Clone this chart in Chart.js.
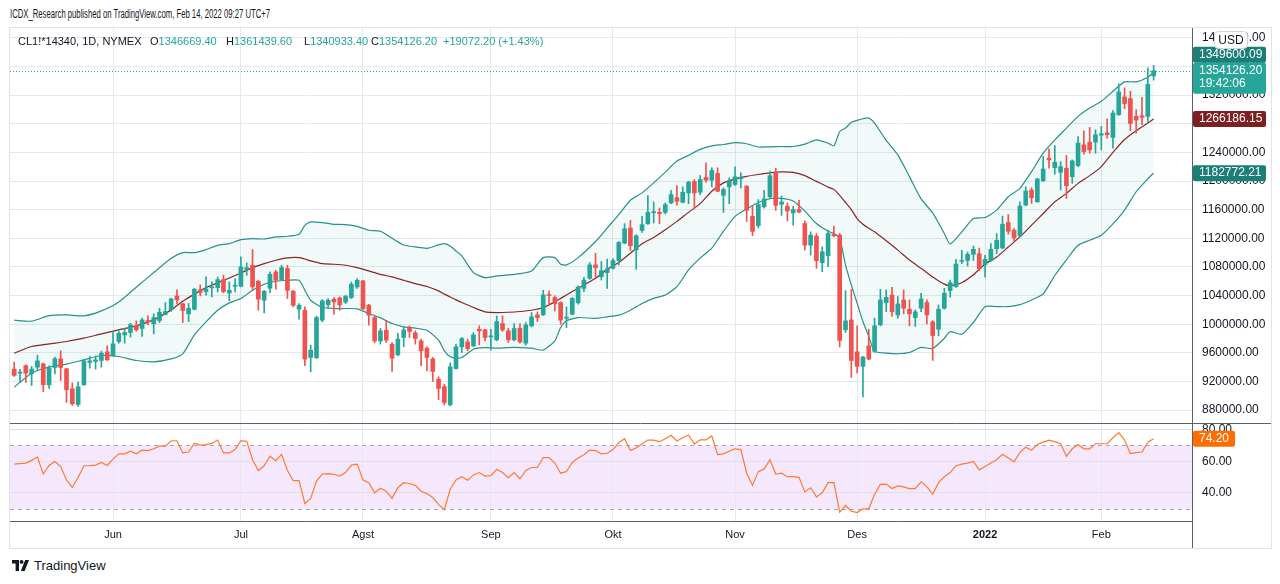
<!DOCTYPE html>
<html>
<head>
<meta charset="utf-8">
<title>CL1! 1D</title>
<script src="https://cdn.jsdelivr.net/npm/chart.js@4.4.1/dist/chart.umd.min.js"></script>
<style>
  html, body { margin: 0; padding: 0; background: #fff; }
  body { position: relative; width: 1280px; height: 584px; overflow: hidden;
         font-family: "Liberation Sans", Arial, sans-serif; color: #131722; }
  #title { position: absolute; left: 10px; top: 7px; font-size: 12px; white-space: nowrap; transform-origin: 0 0; }
  #frame { position: absolute; left: 9px; top: 27px; width: 1263px; height: 522px;
           border: 1px solid #e0e3eb; box-sizing: border-box; }
  canvas { position: absolute; }
  #legend { position: absolute; left: 0; top: 35px; font-size: 11px; white-space: nowrap; }
  #legend span { position: absolute; top: 0; }
  #legend i { font-style: normal; color: #26a69a; }
  #brand { position: absolute; left: 12px; top: 558px; font-size: 13px; display: flex; align-items: center; }
  #brand svg { margin-right: 5px; }
</style>
</head>
<body>
<div id="title">ICDX_Research published on TradingView.com, Feb 14, 2022 09:27 UTC+7</div>
<div id="frame"></div>
<canvas id="priceCv" width="1261" height="395" style="left:10px;top:28px"></canvas>
<canvas id="rsiCv" width="1261" height="125" style="left:10px;top:423px"></canvas>
<div id="legend">
  <span style="left:18px">CL1!*14340, 1D, NYMEX</span>
  <span style="left:150px">O<i>1346669.40</i></span>
  <span style="left:226px">H<i>1361439.60</i></span>
  <span style="left:304px">L<i>1340933.40</i></span>
  <span style="left:371px">C<i>1354126.20</i></span>
  <span style="left:443px"><i>+19072.20 (+1.43%)</i></span>
</div>
<div id="brand">
  <svg width="17" height="11" viewBox="0 0 17 11"><path d="M0 0h7v11H3.6V3.4H0z" fill="#131722"/><circle cx="9.6" cy="1.9" r="1.9" fill="#131722"/><path d="M13.2 0h3.8L12.6 11H8.8z" fill="#131722"/></svg>
  <span>TradingView</span>
</div>

<script>
// daily candles, prices in thousands
var OPEN = [
  937.2, 931.6, 941.9, 930.7, 940.0, 944.7, 915.4, 939.5, 951.6, 937.7,
  909.8, 887.9, 915.4, 946.5, 947.9, 949.3, 961.4, 955.8, 975.8, 985.1,
  988.4, 997.7, 994.0, 1005.1, 1000.5, 1005.1, 1013.5, 1020.0, 1039.5, 1028.4,
  1014.4, 1020.9, 1047.9, 1045.6, 1050.7, 1051.2, 1062.3, 1043.7, 1053.0, 1053.0,
  1076.3, 1082.3, 1060.0, 1033.5, 1050.2, 1073.0, 1062.3, 1077.7, 1046.0, 1020.9,
  1019.5, 953.5, 953.0, 1005.6, 1027.4, 1034.9, 1036.7, 1030.7, 1037.2, 1052.1,
  1060.5, 1026.5, 1009.3, 976.7, 991.6, 972.1, 957.2, 981.4, 994.4, 987.9,
  976.7, 966.5, 951.6, 923.3, 913.0, 887.4, 938.1, 968.4, 975.3, 969.8,
  993.0, 992.1, 982.3, 978.1, 1000.9, 990.7, 978.1, 994.4, 973.5, 997.7,
  1013.0, 1013.0, 1041.4, 1037.2, 1030.2, 1008.4, 1014.0, 1030.0, 1050.0, 1064.0,
  1082.8, 1066.4, 1072.0, 1078.1, 1088.9, 1113.2, 1134.3, 1103.9, 1131.0, 1140.3,
  1155.8, 1156.2, 1156.2, 1169.3, 1176.8, 1170.3, 1183.4, 1199.3, 1184.3, 1204.9,
  1201.2, 1210.5, 1180.1, 1191.8, 1195.1, 1203.0, 1192.7, 1150.6, 1137.5, 1164.0,
  1178.0, 1211.5, 1167.5, 1164.7, 1155.4, 1160.0, 1140.6, 1110.4, 1123.0, 1085.8,
  1095.6, 1125.7, 1124.4, 992.1, 1006.0, 961.5, 941.1, 969.8, 962.0, 999.1,
  1030.2, 1040.8, 1013.0, 1033.9, 1020.9, 1009.3, 1022.3, 1030.2, 1003.2, 993.0,
  1022.3, 1046.9, 1052.4, 1087.7, 1089.1, 1097.6, 1098.5, 1083.0, 1089.1, 1105.5,
  1106.4, 1142.0, 1131.2, 1123.3, 1166.3, 1187.4, 1171.0, 1200.5, 1231.8, 1218.7,
  1212.2, 1217.8, 1206.1, 1221.5, 1250.5, 1254.3, 1254.3, 1264.1, 1267.4, 1260.8,
  1292.6, 1317.4, 1315.1, 1290.3, 1291.2, 1290.3, 1346.7
];
var HIGH = [
  947.0, 937.0, 943.3, 941.0, 956.7, 945.6, 941.9, 954.0, 962.8, 938.6,
  918.1, 919.0, 950.2, 954.9, 955.8, 962.3, 969.8, 989.8, 989.8, 994.4,
  1001.4, 1004.7, 1008.4, 1011.6, 1014.4, 1022.3, 1030.2, 1036.3, 1047.9, 1029.3,
  1029.3, 1050.2, 1054.9, 1066.0, 1059.0, 1066.0, 1068.4, 1059.0, 1063.7, 1094.0,
  1085.6, 1104.2, 1061.4, 1047.4, 1073.0, 1075.3, 1082.3, 1082.3, 1047.4, 1028.8,
  1024.2, 970.7, 1011.2, 1034.4, 1035.8, 1037.2, 1038.1, 1040.5, 1059.0, 1063.7,
  1061.4, 1027.9, 1011.2, 994.0, 1004.7, 974.4, 987.4, 996.7, 997.7, 990.7,
  979.1, 968.4, 953.5, 926.5, 916.3, 946.0, 972.1, 981.4, 979.1, 988.4,
  997.7, 993.0, 993.0, 1011.6, 1011.6, 994.4, 1000.9, 1000.9, 1002.3, 1016.3,
  1017.2, 1047.4, 1046.5, 1039.5, 1031.2, 1024.2, 1037.2, 1053.5, 1065.5, 1086.0,
  1099.2, 1087.5, 1090.8, 1091.7, 1115.5, 1140.3, 1145.0, 1124.9, 1150.6, 1179.6,
  1170.7, 1162.3, 1169.3, 1187.1, 1193.7, 1191.8, 1199.7, 1202.1, 1207.7, 1225.5,
  1218.5, 1218.5, 1190.4, 1204.4, 1219.9, 1211.4, 1193.7, 1164.7, 1174.0, 1187.0,
  1214.0, 1218.0, 1179.0, 1169.4, 1164.7, 1173.0, 1144.3, 1129.0, 1126.7, 1108.1,
  1131.3, 1136.9, 1126.7, 1046.9, 1048.7, 997.7, 955.0, 993.0, 1008.4, 1048.7,
  1047.8, 1051.5, 1038.5, 1047.8, 1033.9, 1020.0, 1043.2, 1033.9, 1005.1, 1026.9,
  1050.1, 1061.7, 1090.5, 1103.2, 1100.8, 1109.2, 1106.4, 1096.1, 1112.5, 1126.6,
  1150.9, 1153.2, 1133.6, 1171.0, 1192.0, 1190.6, 1203.7, 1234.1, 1244.9, 1249.6,
  1227.1, 1235.6, 1229.5, 1262.2, 1270.2, 1274.8, 1271.6, 1276.3, 1287.0, 1298.2,
  1335.7, 1330.0, 1325.4, 1299.6, 1317.0, 1358.1, 1361.4
];
var LOW = [
  927.0, 918.6, 918.6, 914.4, 936.3, 905.6, 910.2, 930.7, 921.4, 890.7,
  886.5, 885.1, 914.4, 938.6, 937.2, 940.0, 949.3, 954.9, 973.5, 973.5,
  981.9, 990.2, 982.8, 999.1, 986.5, 1002.3, 1013.0, 1017.7, 1028.4, 1002.3,
  1003.7, 1020.0, 1039.5, 1040.5, 1038.1, 1045.1, 1043.7, 1032.6, 1045.1, 1052.1,
  1068.4, 1047.4, 1019.5, 1015.8, 1043.7, 1048.8, 1061.4, 1035.8, 1024.2, 1007.0,
  941.9, 933.5, 952.1, 1003.3, 1021.9, 1014.0, 1019.5, 1028.8, 1035.8, 1049.8,
  1020.5, 998.6, 974.0, 972.1, 974.4, 934.0, 955.8, 968.4, 981.4, 972.1,
  941.9, 934.9, 920.0, 894.4, 887.0, 886.0, 937.2, 960.5, 962.8, 968.4,
  971.2, 976.7, 963.7, 976.7, 989.8, 974.4, 976.7, 973.5, 970.7, 996.3,
  1003.7, 1012.1, 1027.0, 1018.6, 1000.0, 995.3, 1013.0, 1027.9, 1045.4, 1062.7,
  1065.5, 1061.7, 1050.0, 1076.7, 1082.8, 1112.3, 1102.9, 1076.7, 1128.2, 1139.4,
  1141.3, 1140.3, 1153.9, 1168.4, 1166.1, 1169.3, 1168.4, 1160.9, 1181.0, 1198.4,
  1191.8, 1184.8, 1156.2, 1168.4, 1193.7, 1190.4, 1143.6, 1123.5, 1134.3, 1162.0,
  1175.5, 1159.0, 1152.0, 1144.3, 1138.3, 1155.4, 1103.5, 1096.5, 1078.0, 1073.3,
  1080.3, 1122.0, 968.0, 988.4, 925.8, 931.8, 898.4, 950.4, 960.6, 997.7,
  1017.6, 1010.7, 1008.4, 1014.4, 997.7, 996.8, 1017.6, 1000.5, 949.4, 983.8,
  1020.9, 1037.6, 1051.5, 1084.5, 1081.2, 1089.1, 1075.1, 1065.7, 1087.7, 1098.5,
  1105.5, 1125.6, 1115.8, 1121.9, 1165.4, 1168.7, 1170.1, 1199.1, 1217.8, 1209.4,
  1187.4, 1175.7, 1196.7, 1220.1, 1237.4, 1238.8, 1238.8, 1243.5, 1259.9, 1245.8,
  1291.7, 1301.0, 1270.2, 1266.9, 1278.6, 1283.3, 1340.9
];
var CLOSE = [
  928.4, 933.0, 931.6, 937.2, 948.8, 915.4, 938.6, 951.6, 939.5, 908.4,
  888.8, 912.6, 948.8, 948.8, 950.2, 959.5, 950.2, 972.6, 987.4, 988.4,
  999.1, 992.1, 1006.0, 1003.7, 1009.3, 1016.7, 1017.7, 1035.3, 1034.0, 1019.1,
  1022.3, 1048.8, 1044.2, 1049.3, 1051.6, 1062.3, 1045.6, 1047.4, 1054.0, 1080.0,
  1079.0, 1052.1, 1034.9, 1046.0, 1069.8, 1061.4, 1079.1, 1047.4, 1026.5, 1026.5,
  951.2, 963.7, 1009.3, 1032.6, 1033.5, 1031.2, 1027.0, 1039.1, 1055.8, 1061.4,
  1021.4, 1012.6, 976.7, 990.7, 977.7, 952.6, 979.1, 992.1, 989.8, 980.0,
  962.8, 953.5, 934.0, 910.2, 890.7, 940.5, 968.4, 980.0, 966.0, 985.1,
  990.7, 981.4, 983.3, 1003.7, 992.1, 978.1, 994.0, 975.3, 999.1, 1010.2,
  1009.3, 1040.9, 1040.0, 1028.8, 1005.6, 1009.3, 1036.0, 1051.8, 1061.7, 1082.8,
  1079.0, 1074.8, 1077.2, 1088.9, 1114.1, 1133.3, 1109.5, 1123.5, 1139.0, 1156.2,
  1157.2, 1154.4, 1167.0, 1181.0, 1171.7, 1184.3, 1198.4, 1183.4, 1202.1, 1201.2,
  1214.7, 1185.7, 1188.1, 1199.7, 1205.8, 1205.4, 1159.0, 1129.6, 1167.0, 1175.0,
  1207.5, 1166.0, 1170.8, 1158.2, 1160.0, 1156.8, 1110.4, 1124.4, 1088.6, 1101.2,
  1126.7, 1123.4, 977.3, 1004.6, 949.4, 941.1, 954.1, 951.3, 997.7, 1033.9,
  1037.6, 1017.6, 1028.3, 1022.3, 1014.4, 1017.2, 1035.3, 1013.0, 984.2, 1020.9,
  1043.2, 1058.0, 1084.0, 1089.1, 1097.6, 1104.6, 1077.4, 1090.5, 1104.6, 1117.2,
  1139.7, 1129.8, 1120.5, 1164.9, 1186.0, 1176.6, 1202.8, 1216.8, 1229.5, 1226.2,
  1220.1, 1193.5, 1228.1, 1252.9, 1241.2, 1243.5, 1264.6, 1266.0, 1264.6, 1295.0,
  1324.4, 1308.1, 1280.5, 1285.1, 1288.9, 1335.1, 1354.1
];

// Bollinger band readings, at the bar indices in BB_IDX
var BB_IDX = [
  0, 3, 6, 9, 12, 15, 18, 21, 24, 27, 29, 31, 33, 35, 37, 39, 41, 43, 45, 47,
  49, 50, 51, 53, 55, 57, 59, 61, 63, 65, 67, 69, 71, 73, 74, 75, 76, 77, 79, 81,
  83, 85, 87, 89, 91, 93, 94, 95, 97, 100, 102, 104, 106, 108, 110, 112, 114, 116, 118, 120,
  122, 124, 126, 128, 130, 132, 134, 136, 138, 140, 141, 142, 143, 144, 145, 146, 147, 148, 150, 152,
  154, 156, 158, 160, 161, 163, 165, 167, 169, 171, 173, 175, 177, 179, 181, 183, 185, 187, 189, 191,
  193, 195, 196
];
var BB_UPPER = [
  1005.6, 1004.2, 1012.0, 1013.0, 1011.6, 1018.6, 1031.0, 1051.6, 1072.1, 1092.1,
  1100.0, 1100.0, 1104.2, 1110.2, 1112.6, 1118.1, 1119.5, 1119.0, 1121.9, 1122.8,
  1125.6, 1138.1, 1142.8, 1141.9, 1139.5, 1139.1, 1136.7, 1131.2, 1129.8, 1120.0,
  1110.7, 1107.9, 1106.0, 1110.7, 1112.6, 1109.3, 1102.3, 1095.3, 1072.1, 1065.1,
  1067.4, 1068.8, 1070.7, 1074.4, 1093.0, 1093.0, 1083.7, 1082.8, 1093.0, 1115.5,
  1134.3, 1153.0, 1173.1, 1183.4, 1197.4, 1212.4, 1227.8, 1235.8, 1244.2, 1249.0,
  1251.0, 1253.5, 1252.0, 1247.5, 1247.7, 1248.2, 1248.2, 1251.5, 1257.5, 1252.9,
  1249.1, 1269.2, 1273.9, 1281.9, 1284.7, 1287.0, 1288.0, 1280.9, 1256.6, 1236.5,
  1206.1, 1175.0, 1155.4, 1126.7, 1112.0, 1128.9, 1147.6, 1149.0, 1159.3, 1178.0,
  1189.7, 1213.1, 1238.8, 1257.5, 1273.9, 1290.3, 1302.0, 1311.3, 1325.4, 1338.5,
  1338.5, 1345.0, 1352.0
];
var BB_BASIS = [
  959.5, 968.8, 972.5, 975.8, 980.5, 986.5, 992.1, 997.7, 1006.0, 1020.0,
  1032.0, 1042.0, 1051.2, 1057.7, 1064.6, 1071.6, 1079.0, 1084.6, 1089.3, 1092.6,
  1093.0, 1091.0, 1088.4, 1084.6, 1083.7, 1082.3, 1079.0, 1074.4, 1069.5, 1066.0,
  1061.4, 1056.7, 1052.6, 1046.5, 1042.0, 1038.1, 1034.0, 1030.2, 1023.3, 1017.2,
  1016.3, 1016.7, 1017.7, 1019.5, 1023.3, 1031.2, 1036.0, 1040.9, 1050.2, 1064.1,
  1076.7, 1086.1, 1099.2, 1112.3, 1121.2, 1131.9, 1143.6, 1156.2, 1168.4, 1185.7,
  1197.4, 1203.0, 1206.5, 1209.1, 1211.4, 1212.7, 1212.0, 1207.5, 1199.5, 1191.5,
  1188.3, 1180.0, 1170.0, 1160.0, 1147.6, 1139.7, 1134.0, 1129.0, 1116.5, 1103.5,
  1089.6, 1078.0, 1066.0, 1056.0, 1054.0, 1058.0, 1069.0, 1084.0, 1093.8, 1107.8,
  1121.9, 1138.3, 1154.6, 1171.0, 1182.7, 1196.7, 1207.5, 1220.1, 1240.0, 1258.0,
  1270.2, 1280.9, 1286.5
];
var BB_LOWER = [
  912.1, 931.6, 940.0, 944.2, 950.2, 956.3, 954.9, 949.3, 947.4, 951.5,
  958.6, 985.0, 1003.3, 1019.5, 1029.8, 1035.8, 1047.4, 1055.8, 1060.0, 1061.4,
  1061.4, 1047.4, 1033.5, 1023.3, 1021.9, 1021.9, 1021.4, 1014.9, 1008.9, 1000.9,
  996.3, 994.4, 991.6, 977.7, 962.8, 954.4, 952.6, 953.5, 965.1, 967.4,
  966.5, 967.4, 967.4, 966.5, 963.7, 976.7, 995.3, 1004.7, 1009.3, 1008.0,
  1010.3, 1012.6, 1019.6, 1029.0, 1036.0, 1040.7, 1052.4, 1075.8, 1092.2, 1106.2,
  1129.6, 1150.6, 1161.0, 1170.0, 1175.5, 1175.7, 1172.0, 1158.0, 1140.6, 1129.9,
  1126.7, 1119.7, 1082.6, 1054.8, 1029.2, 1003.7, 982.8, 962.0, 959.6, 958.7,
  960.6, 967.5, 966.1, 980.2, 989.6, 985.9, 1002.4, 1024.5, 1024.5, 1024.5,
  1027.3, 1033.9, 1042.4, 1068.0, 1090.0, 1110.2, 1117.2, 1124.2, 1140.0, 1159.3,
  1185.0, 1203.0, 1211.0
];

// RSI(14), one reading per bar
var RSI = [
  58.2, 58.6, 58.9, 60.6, 62.7, 52.0, 57.4, 59.9, 56.7, 48.2,
  43.5, 49.9, 57.2, 57.3, 57.6, 59.3, 57.4, 61.4, 64.7, 64.7,
  66.4, 64.7, 67.0, 66.8, 67.9, 69.6, 69.6, 73.0, 73.0, 65.3,
  65.9, 71.5, 70.2, 70.6, 71.3, 73.4, 65.3, 65.3, 67.4, 73.0,
  72.6, 61.0, 54.2, 57.2, 63.2, 60.4, 64.4, 54.2, 47.8, 47.8,
  33.2, 36.6, 47.5, 52.0, 52.2, 51.8, 50.7, 52.9, 57.6, 58.2,
  48.2, 46.5, 40.1, 43.0, 41.1, 36.6, 43.3, 46.5, 46.0, 44.8,
  41.1, 39.6, 37.1, 32.8, 29.4, 42.4, 48.2, 50.3, 48.0, 51.4,
  52.9, 50.7, 51.0, 55.0, 52.9, 49.7, 52.9, 49.0, 54.2, 56.1,
  56.1, 62.3, 62.3, 58.9, 52.5, 53.5, 59.3, 62.1, 64.2, 67.0,
  66.8, 64.7, 65.1, 67.4, 71.7, 74.3, 66.8, 68.5, 71.1, 73.4,
  73.4, 72.4, 74.3, 76.4, 72.8, 74.9, 76.6, 70.9, 73.6, 73.6,
  76.0, 64.2, 64.7, 66.4, 67.9, 67.4, 52.5, 44.8, 53.5, 55.2,
  61.0, 52.0, 52.5, 50.3, 50.3, 49.9, 40.7, 43.3, 37.5, 40.1,
  46.5, 46.5, 27.9, 32.1, 28.5, 27.6, 30.0, 30.0, 39.2, 45.4,
  45.6, 42.8, 44.5, 43.9, 42.8, 42.8, 47.1, 43.9, 39.2, 46.5,
  50.3, 52.9, 57.2, 58.2, 58.9, 59.9, 54.6, 56.7, 58.9, 61.0,
  64.4, 62.1, 59.7, 65.7, 68.9, 67.0, 70.6, 72.1, 73.4, 72.4,
  71.1, 63.2, 67.9, 70.6, 67.9, 67.9, 71.1, 71.1, 71.1, 74.9,
  78.1, 73.4, 64.9, 65.5, 65.9, 72.1, 74.2
];
var RSI_HIGH = 70, RSI_LOW = 30;

// axis ticks
var MONTHS = ["Jun", "Jul", "Agst", "Sep", "Okt", "Nov", "Des", "2022", "Feb"];
var MONTH_IDX = [17, 39, 60, 82, 103, 124, 145, 167, 187];
var PRICE_TICKS = [880, 920, 960, 1000, 1040, 1080, 1120, 1160, 1200, 1240, 1280, 1320, 1360, 1400];
var RSI_TICKS = [40, 60, 80];

// right-scale tag texts as printed on the chart
var TAG_UPPER = "1349600.09", TAG_BASIS = "1266186.15", TAG_LOWER = "1182772.21";
var TAG_LAST = "1354126.20", TAG_TIMER = "19:42:06";

// view / style
var X_MIN = -0.72, X_MAX = 202.6;
var PRICE_MIN = 862.0, PRICE_MAX = 1413.7;
var RSI_MIN = 22.3, RSI_MAX = 84.2;
var AXIS_W = 79;
var UP = "#26a69a", DOWN = "#ef5350";
var BAND = "#27918a", BASIS = "#8b2424", BAND_FILL = "rgba(38,166,154,0.06)";
var TAG_TEAL = "#1b7f78", TAG_RED = "#801f1f", ORANGE = "#ff7a30";
var GRID = "#e3e9ef", RSI_GRID = "#e2ddeb", AXIS_LINE = "#5d606b", TEXT = "#131722";
var FONT = '"Liberation Sans", Arial, sans-serif';

Chart.defaults.font.family = FONT;
Chart.defaults.color = TEXT;

(function () {
  var t = document.getElementById("title");
  t.style.transform = "scaleX(" + (260 / t.offsetWidth) + ")";
})();

function pts(xs, ys) {
  return xs.map(function (x, k) { return { x: x, y: ys[k] }; });
}

// no label overhang padding: the plot areas have to line up with the page frame
function noPad(s) {
  s.paddingTop = 0; s.paddingBottom = 0; s.paddingLeft = 0; s.paddingRight = 0;
}

function xScale(showLabels) {
  return {
    type: "linear", min: X_MIN, max: X_MAX, offset: false,
    afterBuildTicks: function (s) { s.ticks = MONTH_IDX.map(function (v) { return { value: v }; }); },
    afterFit: function (s) { s.height = showLabels ? 27 : 0; noPad(s); },
    grid: { color: GRID, drawTicks: false, offset: false },
    border: { display: showLabels, color: AXIS_LINE },
    ticks: {
      display: showLabels, padding: 7, maxRotation: 0, autoSkip: false, color: TEXT,
      callback: function (v) { var k = MONTH_IDX.indexOf(v); return k < 0 ? "" : MONTHS[k]; },
      font: function (c) {
        var bold = c.tick && c.tick.value === MONTH_IDX[7];
        return { size: 11, family: FONT, weight: bold ? "bold" : "normal" };
      }
    }
  };
}

function drawTag(ctx, x, yc, w, lines, bg) {
  var h = lines.length > 1 ? 31 : 16;
  ctx.save();
  ctx.fillStyle = bg;
  ctx.beginPath();
  ctx.roundRect(x, yc - 8, w, h, 2);
  ctx.fill();
  ctx.fillStyle = "#fff";
  ctx.font = "12px " + FONT;
  ctx.textBaseline = "middle";
  lines.forEach(function (s, k) { ctx.fillText(s, x + 6, yc + k * 13.5); });
  ctx.restore();
}

var lastPriceLine = {
  id: "lastPriceLine",
  afterDatasetsDraw: function (chart) {
    var a = chart.chartArea, ctx = chart.ctx;
    var y = Math.round(chart.scales.y.getPixelForValue(CLOSE[CLOSE.length - 1])) + 0.5;
    ctx.save();
    ctx.strokeStyle = UP;
    ctx.lineWidth = 1;
    ctx.setLineDash([1, 2]);
    ctx.beginPath();
    ctx.moveTo(a.left, y);
    ctx.lineTo(a.right, y);
    ctx.stroke();
    ctx.restore();
  }
};

var priceTags = {
  id: "priceTags",
  afterDraw: function (chart) {
    var a = chart.chartArea, ys = chart.scales.y, ctx = chart.ctx;
    var n = BB_IDX.length - 1, x = a.right + 1, w = 73;
    var yc = ys.getPixelForValue(CLOSE[CLOSE.length - 1]);
    var yu = ys.getPixelForValue(BB_UPPER[n]);
    if (Math.abs(yu - yc) < 24) yu = yc - 16;
    drawTag(ctx, x, ys.getPixelForValue(BB_BASIS[n]), w, [TAG_BASIS], TAG_RED);
    drawTag(ctx, x, ys.getPixelForValue(BB_LOWER[n]), w, [TAG_LOWER], TAG_TEAL);
    drawTag(ctx, x, yu, w, [TAG_UPPER], TAG_TEAL);
    drawTag(ctx, x, yc, w, [TAG_LAST, TAG_TIMER], UP);

    // currency badge
    ctx.save();
    ctx.fillStyle = "#fff";
    ctx.strokeStyle = "#d1d4dc";
    ctx.lineWidth = 1;
    ctx.beginPath();
    ctx.roundRect(a.right + 22.5, 3.5, 33, 17, 4);
    ctx.fill();
    ctx.stroke();
    ctx.fillStyle = TEXT;
    ctx.font = "12px " + FONT;
    ctx.textAlign = "center";
    ctx.textBaseline = "middle";
    ctx.fillText("USD", a.right + 39, 12.5);
    ctx.restore();
  }
};

var rsiDecor = {
  id: "rsiDecor",
  beforeDraw: function (chart) {
    var a = chart.chartArea, ys = chart.scales.y, ctx = chart.ctx;
    var y1 = ys.getPixelForValue(RSI_HIGH), y2 = ys.getPixelForValue(RSI_LOW);
    ctx.save();
    ctx.fillStyle = "#f5e8fc";
    ctx.fillRect(a.left, y1, a.right - a.left, y2 - y1);
    ctx.restore();
  },
  beforeDatasetsDraw: function (chart) {
    var a = chart.chartArea, ys = chart.scales.y, ctx = chart.ctx;
    ctx.save();
    ctx.strokeStyle = "#aaa3b6";
    ctx.lineWidth = 1;
    ctx.setLineDash([4, 4]);
    [RSI_HIGH, RSI_LOW].forEach(function (v) {
      var y = Math.round(ys.getPixelForValue(v)) + 0.5;
      ctx.beginPath();
      ctx.moveTo(a.left, y);
      ctx.lineTo(a.right, y);
      ctx.stroke();
    });
    ctx.restore();
  },
  afterDraw: function (chart) {
    var a = chart.chartArea, ys = chart.scales.y, ctx = chart.ctx;
    ctx.save();
    ctx.strokeStyle = AXIS_LINE;
    ctx.lineWidth = 1;
    ctx.beginPath();
    ctx.moveTo(0, a.top + 0.5);
    ctx.lineTo(chart.width, a.top + 0.5);
    ctx.moveTo(a.right + 0.5, a.bottom);
    ctx.lineTo(a.right + 0.5, chart.height);
    ctx.stroke();
    ctx.restore();
    var last = RSI[RSI.length - 1];
    drawTag(ctx, a.right + 1, ys.getPixelForValue(last), 42, [last.toFixed(2)], "#ff6d00");
  }
};

var colors = CLOSE.map(function (c, i) { return c >= OPEN[i] ? UP : DOWN; });

new Chart(document.getElementById("priceCv"), {
  type: "bar",
  data: {
    datasets: [
      { type: "line", data: pts(BB_IDX, BB_UPPER), borderColor: BAND, borderWidth: 1.2,
        pointRadius: 0, tension: 0.2, order: 3,
        fill: { target: 2, above: BAND_FILL, below: BAND_FILL } },
      { type: "line", data: pts(BB_IDX, BB_BASIS), borderColor: BASIS, borderWidth: 1.2,
        pointRadius: 0, tension: 0.2, fill: false, order: 2 },
      { type: "line", data: pts(BB_IDX, BB_LOWER), borderColor: BAND, borderWidth: 1.2,
        pointRadius: 0, tension: 0.2, fill: false, order: 2 },
      { type: "bar", data: CLOSE.map(function (c, i) { return { x: i, y: [LOW[i], HIGH[i]] }; }),
        backgroundColor: colors, barThickness: 1, grouped: false, order: 1 },
      { type: "bar", data: CLOSE.map(function (c, i) { return { x: i, y: [Math.min(OPEN[i], c), Math.max(OPEN[i], c)] }; }),
        backgroundColor: colors, barThickness: 4, minBarLength: 1, grouped: false, order: 0 }
    ]
  },
  options: {
    responsive: false, animation: false, events: [],
    layout: { padding: 0, autoPadding: false },
    plugins: { legend: { display: false }, tooltip: { enabled: false } },
    scales: {
      x: xScale(false),
      y: {
        type: "linear", position: "right", min: PRICE_MIN, max: PRICE_MAX,
        afterBuildTicks: function (s) { s.ticks = PRICE_TICKS.map(function (v) { return { value: v }; }); },
        afterFit: function (s) { s.width = AXIS_W; noPad(s); },
        grid: { color: GRID, drawTicks: false },
        border: { color: AXIS_LINE },
        ticks: { color: TEXT, padding: 10, font: { size: 12 },
                 callback: function (v) { return (v * 1000).toFixed(2); } }
      }
    }
  },
  plugins: [lastPriceLine, priceTags]
});

new Chart(document.getElementById("rsiCv"), {
  type: "line",
  data: {
    datasets: [
      { data: RSI.map(function (v, i) { return { x: i, y: v }; }), borderColor: ORANGE,
        borderWidth: 1.2, pointRadius: 0, tension: 0, fill: false }
    ]
  },
  options: {
    responsive: false, animation: false, events: [],
    layout: { padding: 0, autoPadding: false },
    plugins: { legend: { display: false }, tooltip: { enabled: false } },
    scales: {
      x: xScale(true),
      y: {
        type: "linear", position: "right", min: RSI_MIN, max: RSI_MAX,
        afterBuildTicks: function (s) { s.ticks = RSI_TICKS.map(function (v) { return { value: v }; }); },
        afterFit: function (s) { s.width = AXIS_W; noPad(s); },
        grid: { color: RSI_GRID, drawTicks: false },
        border: { color: AXIS_LINE },
        ticks: { color: TEXT, padding: 10, font: { size: 12 },
                 callback: function (v) { return v.toFixed(2); } }
      }
    }
  },
  plugins: [rsiDecor]
});
</script>
</body>
</html>
